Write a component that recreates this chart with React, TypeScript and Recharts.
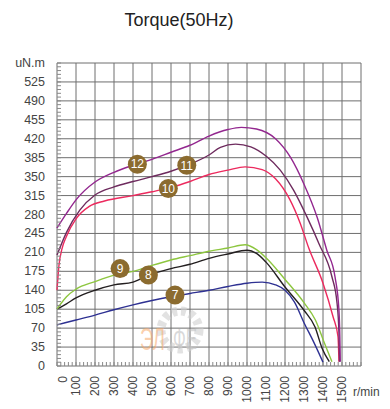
import React from 'react';
import { LineChart, Line, XAxis, YAxis, CartesianGrid, ReferenceDot } from 'recharts';

// torque curves (rpm -> uN.m)
const curve7 = [
  { rpm: 0, torque: 76 }, { rpm: 100, torque: 85 }, { rpm: 200, torque: 94 }, { rpm: 300, torque: 104 },
  { rpm: 400, torque: 113 }, { rpm: 500, torque: 121 }, { rpm: 600, torque: 128 }, { rpm: 700, torque: 134 },
  { rpm: 800, torque: 140 }, { rpm: 900, torque: 147 }, { rpm: 1000, torque: 153 }, { rpm: 1080, torque: 155 },
  { rpm: 1150, torque: 150 }, { rpm: 1200, torque: 140 }, { rpm: 1250, torque: 118 }, { rpm: 1300, torque: 80 },
  { rpm: 1350, torque: 45 }, { rpm: 1400, torque: 7 },
];
const curve8 = [
  { rpm: 0, torque: 105 }, { rpm: 50, torque: 115 }, { rpm: 100, torque: 126 }, { rpm: 200, torque: 140 },
  { rpm: 300, torque: 150 }, { rpm: 400, torque: 155 }, { rpm: 500, torque: 170 }, { rpm: 600, torque: 180 },
  { rpm: 700, torque: 188 }, { rpm: 800, torque: 199 }, { rpm: 900, torque: 207 }, { rpm: 1000, torque: 214 },
  { rpm: 1050, torque: 208 }, { rpm: 1100, torque: 192 }, { rpm: 1200, torque: 146 }, { rpm: 1300, torque: 103 },
  { rpm: 1358, torque: 72 }, { rpm: 1395, torque: 33 }, { rpm: 1433, torque: 8 },
];
const curve9 = [
  { rpm: 0, torque: 105 }, { rpm: 20, torque: 115 }, { rpm: 50, torque: 128 }, { rpm: 100, torque: 142 },
  { rpm: 200, torque: 156 }, { rpm: 300, torque: 168 }, { rpm: 400, torque: 175 }, { rpm: 500, torque: 186 },
  { rpm: 600, torque: 196 }, { rpm: 700, torque: 204 }, { rpm: 800, torque: 212 }, { rpm: 900, torque: 218 },
  { rpm: 990, torque: 224 }, { rpm: 1050, torque: 215 }, { rpm: 1100, torque: 200 }, { rpm: 1200, torque: 160 },
  { rpm: 1300, torque: 117 }, { rpm: 1360, torque: 85 }, { rpm: 1410, torque: 40 }, { rpm: 1447, torque: 8 },
];
const curve10 = [
  { rpm: 0, torque: 140 }, { rpm: 10, torque: 185 }, { rpm: 25, torque: 215 }, { rpm: 50, torque: 240 },
  { rpm: 100, torque: 272 }, { rpm: 170, torque: 295 }, { rpm: 250, torque: 305 }, { rpm: 400, torque: 315 },
  { rpm: 500, torque: 322 }, { rpm: 600, torque: 330 }, { rpm: 700, torque: 341 }, { rpm: 800, torque: 354 },
  { rpm: 900, torque: 362 }, { rpm: 990, torque: 368 }, { rpm: 1080, torque: 363 }, { rpm: 1150, torque: 346 },
  { rpm: 1225, torque: 308 }, { rpm: 1280, torque: 264 }, { rpm: 1325, torque: 218 }, { rpm: 1400, torque: 153 },
  { rpm: 1453, torque: 91 }, { rpm: 1479, torque: 54 }, { rpm: 1484, torque: 8 },
];
const curve11 = [
  { rpm: 0, torque: 205 }, { rpm: 50, torque: 247 }, { rpm: 120, torque: 288 }, { rpm: 200, torque: 316 },
  { rpm: 300, torque: 331 }, { rpm: 400, torque: 341 }, { rpm: 500, torque: 350 }, { rpm: 600, torque: 360 },
  { rpm: 700, torque: 373 }, { rpm: 800, torque: 390 }, { rpm: 860, torque: 404 }, { rpm: 940, torque: 410 },
  { rpm: 1020, torque: 405 }, { rpm: 1100, torque: 388 }, { rpm: 1175, torque: 362 }, { rpm: 1245, torque: 325 },
  { rpm: 1315, torque: 276 }, { rpm: 1380, torque: 225 }, { rpm: 1447, torque: 165 },
  { rpm: 1474, torque: 116 }, { rpm: 1484, torque: 61 }, { rpm: 1487, torque: 8 },
];
const curve12 = [
  { rpm: 0, torque: 255 }, { rpm: 50, torque: 282 }, { rpm: 100, torque: 307 }, { rpm: 200, torque: 340 },
  { rpm: 300, torque: 358 }, { rpm: 400, torque: 371 }, { rpm: 500, torque: 382 }, { rpm: 600, torque: 395 },
  { rpm: 700, torque: 408 }, { rpm: 800, torque: 425 }, { rpm: 900, torque: 437 }, { rpm: 970, torque: 441 },
  { rpm: 1050, torque: 438 }, { rpm: 1150, torque: 420 }, { rpm: 1230, torque: 385 }, { rpm: 1300, torque: 336 },
  { rpm: 1370, torque: 274 }, { rpm: 1420, torque: 214 }, { rpm: 1463, torque: 165 }, { rpm: 1484, torque: 103 },
  { rpm: 1490, torque: 30 }, { rpm: 1491, torque: 8 },
];

const series = [
  { name: '7', data: curve7, color: '#2e3192' },
  { name: '8', data: curve8, color: '#231f20' },
  { name: '9', data: curve9, color: '#8dc63f' },
  { name: '10', data: curve10, color: '#ec2a5e' },
  { name: '11', data: curve11, color: '#6e2b5e' },
  { name: '12', data: curve12, color: '#93278f' },
];

// numbered badges sitting on the curves
const markers = [
  { id: '12', rpm: 423, torque: 373 },
  { id: '11', rpm: 683, torque: 371 },
  { id: '10', rpm: 586, torque: 328 },
  { id: '9', rpm: 332, torque: 180 },
  { id: '8', rpm: 481, torque: 168 },
  { id: '7', rpm: 621, torque: 131 },
];

const xMajor = [0, 100, 200, 300, 400, 500, 600, 700, 800, 900, 1000, 1100, 1200, 1300, 1400, 1500, 1600];
const yMajor = [0, 35, 70, 105, 140, 175, 210, 245, 280, 315, 350, 385, 420, 455, 490, 525, 560];
const xMinor = Array.from({ length: 81 }, (_, i) => i * 20);
const yMinor = Array.from({ length: 81 }, (_, i) => i * 7);

const FONT = '"Liberation Sans", Arial, sans-serif';

const XTick = (props: any) => {
  const { x, y, payload } = props;
  const v = payload.value;
  if (v % 100 !== 0 || v > 1500) return null;
  const dx = v === 0 ? 6 : 0;
  return (
    <text
      transform={`translate(${x + dx},${y}) rotate(-90)`}
      textAnchor="end"
      dominantBaseline="central"
      fontSize={12}
      fill="#444"
      fontFamily={FONT}
    >
      {v}
    </text>
  );
};

const YTick = (props: any) => {
  const { x, y, payload } = props;
  const v = payload.value;
  if (v % 35 !== 0) return null;
  return (
    <text x={x} y={y} textAnchor="end" dominantBaseline="central" fontSize={12.5} fill="#444" fontFamily={FONT}>
      {v === 560 ? 'uN.m' : v}
    </text>
  );
};

export default function App() {
  return (
    <div style={{ position: 'absolute', left: 0, top: 0, width: 390, height: 409, background: '#fff', fontFamily: FONT }}>
      <div style={{ position: 'absolute', left: 0, width: 358, top: 10, textAlign: 'center', fontSize: 18, color: '#222' }}>
        Torque(50Hz)
      </div>
      <LineChart width={390} height={409} margin={{ top: 63, right: 29, bottom: 0, left: 0 }}>
        <CartesianGrid stroke="#6e6e6e" strokeWidth={1} verticalValues={xMajor} horizontalValues={yMajor} />
        <XAxis
          type="number"
          dataKey="rpm"
          domain={[0, 1600]}
          ticks={xMinor}
          interval={0}
          height={43}
          axisLine={false}
          tickSize={-4}
          tickMargin={14}
          tickLine={{ stroke: '#888' }}
          tick={<XTick />}
        />
        <YAxis
          type="number"
          domain={[0, 560]}
          ticks={yMinor}
          interval={0}
          width={57}
          axisLine={false}
          tickSize={-4}
          tickMargin={16}
          tickLine={{ stroke: '#888' }}
          tick={<YTick />}
        />
        {series.map((s) => (
          <Line
            key={s.name}
            data={s.data}
            dataKey="torque"
            type="monotone"
            stroke={s.color}
            strokeWidth={1.4}
            dot={false}
            isAnimationActive={false}
          />
        ))}
        {markers.map((m) => (
          <ReferenceDot
            key={m.id}
            x={m.rpm}
            y={m.torque}
            r={9.5}
            fill="#8b6b2f"
            stroke="none"
            label={{ value: m.id, position: 'center', fill: '#fff', fontSize: 12, fontFamily: FONT }}
          />
        ))}
      </LineChart>
      <div style={{ position: 'absolute', left: 353, top: 385, fontSize: 12, color: '#444' }}>r/min</div>
      {/* faint watermark */}
      <svg width={390} height={409} style={{ position: 'absolute', left: 0, top: 0, pointerEvents: 'none' }}>
        <circle cx={180} cy={330} r={19} fill="none" stroke="#cfcfcf" strokeWidth={9} strokeDasharray="5 4" opacity={0.6} />
        <g transform="translate(140,350) scale(0.58,1)">
          <text x={0} y={0} fontSize={32} fontFamily={FONT} fill="#f7a868" fillOpacity={0.55}>ЭЛ</text>
        </g>
        <g transform="translate(173,349) scale(0.56,1)">
          <text x={0} y={0} fontSize={30} fontFamily={FONT} fill="#c0c0c0" fillOpacity={0.6}>ФЕ</text>
        </g>
      </svg>
    </div>
  );
}
